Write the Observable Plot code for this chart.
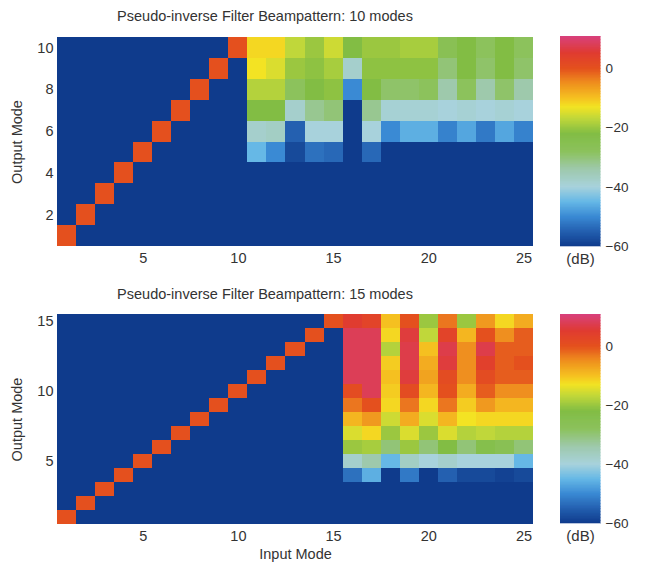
<!DOCTYPE html>
<html>
<head>
<meta charset="utf-8">
<script src="https://cdn.jsdelivr.net/npm/d3@7"></script>
<script src="https://cdn.jsdelivr.net/npm/@observablehq/plot@0.6"></script>
<style>
  body { margin: 0; background: #fff; font-family: "Liberation Sans", Arial, sans-serif; }
  #root { position: relative; width: 646px; height: 562px; overflow: hidden; }
  .abs { position: absolute; }
  .ttl { position: absolute; font-size: 14.5px; color: #333; white-space: nowrap; transform: translateX(-50%); }
</style>
</head>
<body>
<div id="root"></div>
<script>
// ---------- data ----------
const inputModes = [1,2,3,4,5,6,7,8,9,10,11,12,13,14,15,16,17,18,19,20,21,22,23,24,25];
const outputModes10 = [1,2,3,4,5,6,7,8,9,10];
const outputModes15 = [1,2,3,4,5,6,7,8,9,10,11,12,13,14,15];
const xTicks = [5,10,15,20,25];
const yTicks10 = [2,4,6,8,10];
const yTicks15 = [5,10,15];
const colorTicks = [0,-20,-40,-60];
const title10 = "Pseudo-inverse Filter Beampattern: 10 modes";
const title15 = "Pseudo-inverse Filter Beampattern: 15 modes";
const xLabel = "Input Mode";
const yLabel = "Output Mode";
const unitLabel = "(dB)";

// beampattern in dB, one row per output mode (row 1 first), 25 input modes per row
const beam10 = [
  [  0,-60,-60,-60,-60,-60,-60,-60,-60,-60,-60,-60,-60,-60,-60,-60,-60,-60,-60,-60,-60,-60,-60,-60,-60],
  [-60,  0,-60,-60,-60,-60,-60,-60,-60,-60,-60,-60,-60,-60,-60,-60,-60,-60,-60,-60,-60,-60,-60,-60,-60],
  [-60,-60,  0,-60,-60,-60,-60,-60,-60,-60,-60,-60,-60,-60,-60,-60,-60,-60,-60,-60,-60,-60,-60,-60,-60],
  [-60,-60,-60,  0,-60,-60,-60,-60,-60,-60,-60,-60,-60,-60,-60,-60,-60,-60,-60,-60,-60,-60,-60,-60,-60],
  [-60,-60,-60,-60,  0,-60,-60,-60,-60,-60,-45,-50,-58,-53,-54,-60,-54,-60,-60,-60,-60,-60,-60,-60,-60],
  [-60,-60,-60,-60,-60,  0,-60,-60,-60,-60,-38,-37,-55,-40,-40,-60,-40,-50,-46,-46,-51,-47,-52,-47,-51],
  [-60,-60,-60,-60,-60,-60,  0,-60,-60,-60,-22,-22,-38,-32,-30,-60,-32,-39,-39,-39,-40,-39,-40,-39,-40],
  [-60,-60,-60,-60,-60,-60,-60,  0,-60,-60,-18,-18,-28,-22,-21,-50,-22,-29,-29,-28,-34,-28,-34,-29,-34],
  [-60,-60,-60,-60,-60,-60,-60,-60,  0,-60,-13,-15,-20,-21,-19,-38,-21,-21,-21,-21,-30,-22,-29,-22,-29],
  [-60,-60,-60,-60,-60,-60,-60,-60,-60,  0,-12,-12,-17,-20,-16,-22,-20,-20,-19,-19,-26,-22,-28,-22,-28]
];
const beam15 = [
  [  0,-60,-60,-60,-60,-60,-60,-60,-60,-60,-60,-60,-60,-60,-60,-60,-60,-60,-60,-60,-60,-60,-60,-60,-60],
  [-60,  0,-60,-60,-60,-60,-60,-60,-60,-60,-60,-60,-60,-60,-60,-60,-60,-60,-60,-60,-60,-60,-60,-60,-60],
  [-60,-60,  0,-60,-60,-60,-60,-60,-60,-60,-60,-60,-60,-60,-60,-60,-60,-60,-60,-60,-60,-60,-60,-60,-60],
  [-60,-60,-60,  0,-60,-60,-60,-60,-60,-60,-60,-60,-60,-60,-60,-53,-46,-60,-52,-60,-55,-58,-58,-59,-58],
  [-60,-60,-60,-60,  0,-60,-60,-60,-60,-60,-60,-60,-60,-60,-60,-38,-34,-45,-37,-40,-38,-40,-40,-40,-45],
  [-60,-60,-60,-60,-60,  0,-60,-60,-60,-60,-60,-60,-60,-60,-60,-20,-19,-30,-20,-30,-22,-30,-24,-26,-30],
  [-60,-60,-60,-60,-60,-60,  0,-60,-60,-60,-60,-60,-60,-60,-60,-15,-12,-20,-15,-20,-15,-18,-17,-18,-18],
  [-60,-60,-60,-60,-60,-60,-60,  0,-60,-60,-60,-60,-60,-60,-60, -9, -6,-16, -8,-15, -9,-13,-12,-12,-12],
  [-60,-60,-60,-60,-60,-60,-60,-60,  0,-60,-60,-60,-60,-60,-60, -3,  0,-12, -3,-12, -3,-11, -6, -9, -9],
  [-60,-60,-60,-60,-60,-60,-60,-60,-60,  0,-60,-60,-60,-60,-60,  1,  8,-11,  1, -9,  0, -8, -1, -5, -5],
  [-60,-60,-60,-60,-60,-60,-60,-60,-60,-60,  0,-60,-60,-60,-60,  8,  8,-10,  6, -7,  1, -5,  1, -1, -1],
  [-60,-60,-60,-60,-60,-60,-60,-60,-60,-60,-60,  0,-60,-60,-60,  8,  8,-11,  7, -8,  6, -5,  4, -1,  0],
  [-60,-60,-60,-60,-60,-60,-60,-60,-60,-60,-60,-60,  0,-60,-60,  8,  8,-18,  7,-10,  7, -5,  7, -1, -1],
  [-60,-60,-60,-60,-60,-60,-60,-60,-60,-60,-60,-60,-60,  0,-60,  8,  8,-12,  6,-17,  3, -9,  0, -5, -1],
  [-60,-60,-60,-60,-60,-60,-60,-60,-60,-60,-60,-60,-60,-60,  0,  5,  3,-10,  0,-20, -3,-20, -6,-12, -8]
];

// colormap stops (dB) and colours
const cmapStops  = [-60, -55, -50, -45, -40, -34, -28, -22, -17, -13, -10, -5, 0, 5, 10.8];
const cmapColors = ["#0f3b8c","#2460b0","#3a8ad4","#66b8e6","#a8d2dc","#9ec9ac","#8cc25c","#82bd44",
                    "#c0d73a","#f3e323","#f5c020","#ef8f1f","#e4501e","#e03c30","#d8407c"];

// ---------- drawing ----------
const font = {fontFamily: "'Liberation Sans', Arial, sans-serif", fontSize: "13.5px", color: "#333", background: "transparent"};
const colorScale = {type: "linear", domain: cmapStops, range: cmapColors, interpolate: "rgb", clamp: true};
const root = document.getElementById("root");

function place(el, left, top) {
  el.classList.add("abs");
  el.style.left = left + "px";
  el.style.top = top + "px";
  root.appendChild(el);
}

function panel({matrix, rows, yTicks, top, height, mTop, mBottom, barTop, barBottom, title, titleY, withXLabel}) {
  const cells = [];
  matrix.forEach((row, i) => row.forEach((v, j) => cells.push({x: inputModes[j], y: rows[i], v})));
  const heat = Plot.plot({
    width: 545, height,
    marginLeft: 57, marginRight: 12, marginTop: mTop, marginBottom: mBottom,
    style: font,
    x: {type: "band", domain: inputModes, padding: 0, round: false, ticks: xTicks, tickSize: 0, tickPadding: 6,
        label: withXLabel ? xLabel : null, labelAnchor: "center", labelOffset: 34, labelArrow: "none"},
    y: {type: "band", domain: rows.slice().reverse(), padding: 0, round: false, ticks: yTicks, tickSize: 0, tickPadding: 4,
        label: yLabel, labelAnchor: "center", labelOffset: 46, labelArrow: "none"},
    color: colorScale,
    marks: [
      Plot.cell(cells, {x: "x", y: "y", fill: "v", inset: 0, shapeRendering: "crispEdges"})
    ]
  });
  heat.querySelectorAll("[aria-label$='axis label'] text, [aria-label$='label'] text").forEach(t => t.style.fontSize = "14.5px");
  place(heat, 0, top);

  const step = 0.25;
  const stops = d3.range(-60, 10.8, step);
  const bar = Plot.plot({
    width: 101, height,
    marginLeft: 15, marginRight: 46, marginTop: barTop, marginBottom: barBottom,
    style: font,
    x: {domain: [0, 1], axis: null},
    y: {domain: [-60, 10.8], axis: null},
    color: colorScale,
    marks: [
      Plot.rect(stops, {x1: () => 0, x2: () => 1, y1: d => d, y2: d => Math.min(d + step, 10.8),
                        fill: d => d + step / 2, stroke: d => d + step / 2, strokeWidth: 0.3,
                        shapeRendering: "crispEdges"}),
      Plot.axisY({anchor: "right", ticks: colorTicks, tickSize: 0, tickPadding: 5, label: null}),
      Plot.text([unitLabel], {frameAnchor: "bottom", dy: 17, fontSize: 15, fill: "#333"})
    ]
  });
  place(bar, 545, top);

  const t = document.createElement("div");
  t.className = "ttl";
  t.textContent = title;
  t.style.left = "265px";
  t.style.top = titleY + "px";
  root.appendChild(t);
}

panel({matrix: beam10, rows: outputModes10, yTicks: yTicks10, top: 0, height: 272,
       mTop: 37, mBottom: 26, barTop: 36, barBottom: 26, title: title10, titleY: 8, withXLabel: false});
panel({matrix: beam15, rows: outputModes15, yTicks: yTicks15, top: 272, height: 290,
       mTop: 42, mBottom: 38, barTop: 42, barBottom: 39, title: title15, titleY: 286, withXLabel: true});
</script>
</body>
</html>
